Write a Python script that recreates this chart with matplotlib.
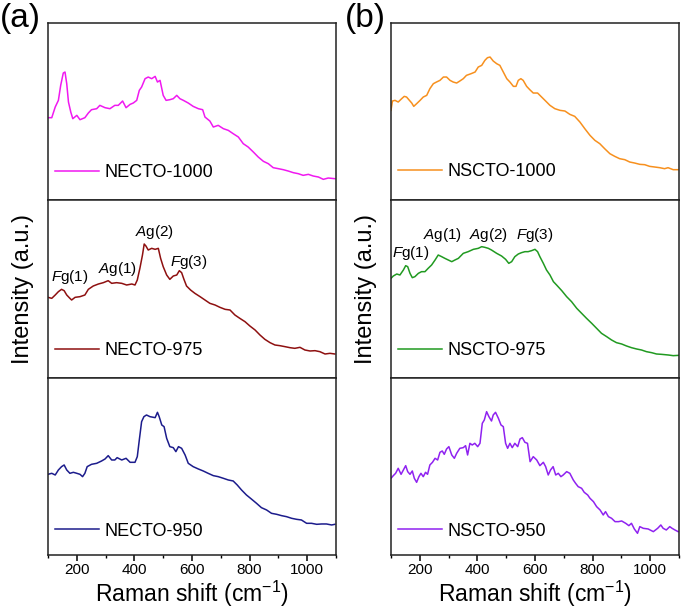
#!/usr/bin/env python
# -*- coding: utf-8 -*-

"""
Raman spectra of NECTO / NSCTO samples sintered at 950, 975 and 1000 C
(two panels, three stacked spectra each).
"""

import numpy as np

import matplotlib as mpl
mpl.use('Agg')

mpl.rcParams.update({'font.family': ['Liberation Sans', 'DejaVu Sans']})
mpl.rcParams.update({'mathtext.fontset': 'custom'})
mpl.rcParams.update({'mathtext.rm': 'Liberation Sans'})
mpl.rcParams.update({'mathtext.it': 'Liberation Sans:italic'})

import matplotlib.pyplot as plt
from matplotlib.ticker import MultipleLocator


# ---------------------------------------------------------
# data (intensity in a.u.)
# ---------------------------------------------------------
necto_1000_x = [100, 113, 125, 136, 144, 153, 159, 165, 171, 179, 186, 200, 211,
                228, 240, 251, 269, 280, 298, 315, 332, 344, 359, 371, 385, 396,
                408, 417, 425, 437, 448, 460, 472, 480, 489, 500, 510, 523, 535,
                547, 558, 570, 587, 604, 622, 637, 645, 662, 674, 691, 709, 726,
                743, 761, 778, 795, 813, 830, 848, 865, 882, 900, 917, 934, 952,
                969, 986, 1004, 1021, 1039, 1056, 1073, 1096]
necto_1000_y = [248, 248, 280, 300, 345, 382, 385, 350, 295, 265, 245, 255, 242,
                248, 262, 272, 275, 285, 278, 275, 285, 285, 298, 278, 288, 292,
                300, 330, 340, 365, 370, 365, 372, 355, 360, 315, 300, 302, 305,
                315, 305, 300, 292, 282, 275, 272, 250, 238, 220, 225, 215, 210,
                200, 190, 170, 160, 145, 130, 117, 110, 98, 95, 92, 88, 83,
                80, 75, 78, 73, 70, 63, 67, 65]

necto_975_x = [100, 113, 125, 136, 147, 156, 165, 176, 182, 194, 211, 228, 240,
               257, 275, 292, 309, 321, 338, 356, 373, 391, 402, 410, 419, 428,
               434, 440, 448, 460, 472, 483, 491, 500, 512, 523, 535, 547, 556,
               564, 572, 581, 595, 610, 628, 645, 662, 680, 697, 715, 732, 749,
               766, 784, 801, 819, 836, 853, 871, 888, 905, 923, 940, 957, 975,
               992, 1010, 1027, 1044, 1062, 1079, 1096]
necto_975_y = [238, 235, 245, 255, 262, 258, 245, 235, 230, 238, 240, 245, 262,
               272, 278, 282, 288, 280, 282, 280, 275, 278, 275, 290, 325, 365,
               398, 392, 380, 385, 382, 385, 355, 330, 305, 292, 302, 305, 318,
               312, 292, 272, 260, 250, 240, 230, 220, 215, 208, 202, 200, 185,
               175, 165, 152, 140, 125, 112, 102, 95, 93, 90, 87, 85, 88,
               80, 77, 78, 75, 68, 70, 68]

necto_950_x = [100, 113, 125, 136, 147, 156, 165, 176, 188, 200, 211, 220, 228,
               236, 251, 269, 286, 298, 309, 321, 332, 340, 356, 371, 385, 402,
               410, 417, 425, 433, 442, 454, 472, 480, 486, 495, 503, 512, 523,
               535, 544, 553, 564, 576, 587, 604, 622, 639, 656, 674, 691, 709,
               726, 743, 757, 772, 789, 806, 824, 841, 859, 876, 894, 911, 928,
               946, 963, 980, 998, 1015, 1033, 1050, 1067, 1085, 1096]
necto_950_y = [242, 245, 240, 255, 265, 270, 255, 245, 248, 245, 242, 235, 245,
               265, 272, 275, 282, 288, 298, 285, 285, 292, 285, 290, 278, 278,
               295, 345, 400, 415, 420, 415, 412, 428, 415, 390, 385, 350, 325,
               322, 310, 325, 320, 300, 275, 265, 258, 252, 245, 238, 235, 230,
               225, 222, 210, 195, 180, 168, 155, 142, 135, 125, 122, 118, 115,
               110, 107, 105, 95, 95, 92, 93, 93, 90, 92]

nscto_1000_x = [100, 105, 114, 125, 137, 146, 154, 162, 172, 179, 189, 201, 212,
                224, 235, 247, 258, 270, 282, 293, 305, 316, 328, 339, 351, 362,
                378, 392, 403, 415, 426, 435, 444, 455, 467, 478, 490, 502, 513,
                525, 534, 542, 551, 559, 571, 582, 594, 609, 623, 637, 652, 669,
                687, 704, 721, 738, 756, 773, 791, 808, 825, 842, 860, 877, 894,
                912, 929, 946, 964, 981, 998, 1016, 1033, 1050, 1062, 1080, 1097]
nscto_1000_y = [270, 298, 300, 295, 305, 312, 310, 302, 292, 282, 290, 300, 310,
                315, 335, 350, 355, 360, 370, 370, 360, 355, 352, 358, 365, 375,
                380, 385, 400, 405, 420, 428, 430, 418, 410, 405, 385, 365, 355,
                342, 342, 360, 365, 360, 342, 332, 322, 322, 310, 298, 285, 275,
                270, 268, 258, 252, 235, 215, 195, 180, 170, 155, 140, 132, 125,
                122, 115, 112, 108, 107, 102, 100, 98, 95, 98, 92, 92]

nscto_975_x = [100, 108, 120, 131, 143, 151, 158, 166, 174, 183, 195, 206, 218,
               229, 241, 253, 264, 276, 287, 299, 311, 322, 334, 351, 368, 386,
               403, 415, 426, 438, 449, 467, 484, 498, 509, 519, 530, 542, 553,
               565, 576, 588, 600, 609, 617, 629, 640, 652, 664, 675, 693, 710,
               727, 745, 762, 779, 797, 814, 831, 849, 866, 883, 901, 918, 935,
               953, 970, 987, 1005, 1022, 1039, 1063, 1080, 1100]
nscto_975_y = [295, 302, 308, 305, 320, 333, 330, 310, 297, 300, 310, 315, 315,
               325, 335, 350, 365, 360, 355, 350, 345, 350, 355, 370, 375, 382,
               385, 390, 388, 385, 380, 370, 362, 352, 340, 345, 360, 368, 372,
               375, 375, 378, 382, 375, 360, 340, 320, 305, 285, 275, 258, 240,
               225, 205, 190, 175, 160, 145, 130, 120, 110, 102, 98, 92, 87,
               83, 80, 75, 72, 68, 67, 65, 63, 64]

nscto_950_x = [100, 108, 116, 125, 135, 143, 151, 158, 166, 174, 181, 189, 197,
               204, 212, 220, 227, 235, 244, 253, 262, 270, 278, 285, 293, 301,
               311, 320, 328, 339, 351, 359, 366, 374, 382, 391, 401, 409, 417,
               424, 432, 440, 449, 455, 463, 473, 482, 490, 498, 505, 513, 521,
               530, 540, 548, 556, 565, 574, 583, 594, 606, 617, 629, 637, 646,
               654, 663, 672, 681, 690, 698, 710, 721, 733, 741, 750, 762, 771,
               783, 791, 803, 814, 826, 837, 845, 855, 866, 878, 890, 901, 915,
               926, 935, 945, 956, 964, 976, 993, 1011, 1026, 1037, 1045, 1056,
               1068, 1076, 1086, 1097]
nscto_950_y = [230, 238, 245, 260, 242, 255, 268, 250, 242, 252, 230, 218, 235,
               245, 235, 248, 242, 270, 278, 290, 285, 308, 312, 302, 318, 325,
               300, 290, 305, 320, 322, 328, 300, 335, 330, 335, 325, 335, 395,
               405, 430, 415, 402, 420, 428, 410, 390, 385, 335, 320, 335, 322,
               335, 325, 348, 352, 338, 335, 280, 295, 285, 268, 278, 265, 240,
               255, 265, 240, 245, 235, 240, 250, 245, 225, 215, 205, 200, 188,
               180, 170, 160, 145, 135, 120, 130, 115, 110, 100, 100, 102, 95,
               88, 95, 78, 65, 85, 80, 78, 70, 80, 90, 80, 75, 85, 80, 75, 70]

# mode labels (text, Raman shift, intensity) for the 975 spectra
modes_necto = [(r'$\mathit{F}$g(1)', 176, 299), (r'$\mathit{A}$g(1)', 343, 323),
               (r'$\mathit{A}$g(2)', 470, 434), (r'$\mathit{F}$g(3)', 588, 344)]
modes_nscto = [(r'$\mathit{F}$g(1)', 169, 371), (r'$\mathit{A}$g(1)', 279, 425),
               (r'$\mathit{A}$g(2)', 440, 425), (r'$\mathit{F}$g(3)', 600, 425)]


def main():
    """
    main
    """
    fig = plt.figure(figsize=[6.85, 6.11], dpi=100)

    panel_a = [
        (necto_1000_x, necto_1000_y, 'NECTO-1000', '#f019f0', (0, 532), 0.156),
        (necto_975_x, necto_975_y, 'NECTO-975', '#8e1010', (-3, 529), 0.152),
        (necto_950_x, necto_950_y, 'NECTO-950', '#1c1c8c', (0, 532), 0.135)]
    panel_b = [
        (nscto_1000_x, nscto_1000_y, 'NSCTO-1000', '#f7901e', (0, 532), 0.161),
        (nscto_975_x, nscto_975_y, 'NSCTO-975', '#219a21', (-3, 529), 0.152),
        (nscto_950_x, nscto_950_y, 'NSCTO-950', '#8f22f0', (0, 532), 0.135)]

    plot_panel(fig, panel_a, 0.0701, modes_necto, '(a)', 0.0, 0.0335)
    plot_panel(fig, panel_b, 0.5708, modes_nscto, '(b)', 0.503, 0.535)

    fig.savefig('out.png', dpi=100)
    plt.close(fig)


def plot_panel(fig, spectra, left, modes, tag, tag_x, ylab_x):
    """
    draws three stacked spectra sharing the Raman shift axis
    """
    width = 0.4204
    height = 0.2902
    bottom = 0.0917

    for i, (x, y, label, col, ylim, leg_y) in enumerate(spectra):
        ax = fig.add_axes([left, bottom + (2 - i) * height, width, height])
        ax.plot(x, y, color=col, lw=1.1, label=label)
        ax.set_xlim(100, 1100)
        ax.set_ylim(ylim)
        ax.set_yticks([])
        for sp in ax.spines.values():
            sp.set_linewidth(1.1)
            sp.set_color('#222222')

        ax.legend(loc='center left', bbox_to_anchor=(0.0, leg_y),
                  frameon=False, fontsize=13, borderpad=0,
                  borderaxespad=0.4, handlelength=2.45, handletextpad=0.3)

        if i == 1:
            for txt, xm, ym in modes:
                ax.text(xm, ym, txt, fontsize=11, ha='center', va='center')

        if i == 2:
            ax.xaxis.set_major_locator(MultipleLocator(200))
            ax.xaxis.set_minor_locator(MultipleLocator(100))
            ax.tick_params(axis='x', which='major', direction='out',
                           length=4, width=1.1, labelsize=11, pad=2)
            ax.tick_params(axis='x', which='minor', direction='out',
                           length=2.5, width=1.0)
        else:
            ax.set_xticks([])

    fig.text(left + width / 2, 0.015, 'Raman shift (cm$^{-1}$)',
             fontsize=16.5, ha='center', va='baseline')
    fig.text(ylab_x, 0.527, 'Intensity (a.u.)', fontsize=17,
             rotation=90, ha='center', va='center')
    fig.text(tag_x, 0.995, tag, fontsize=24, ha='left', va='top')


# ---------------------------------------------------------
# Start main:
# ---------------------------------------------------------
if __name__ == "__main__":
    main()
